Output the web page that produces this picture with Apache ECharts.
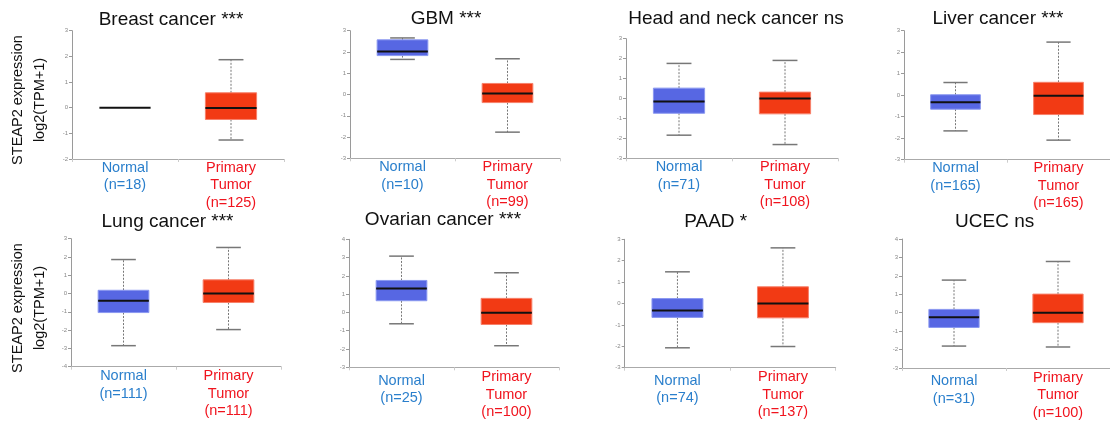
<!DOCTYPE html>
<html><head><meta charset="utf-8">
<script src="https://cdn.jsdelivr.net/npm/echarts@6/dist/echarts.min.js"></script>
<style>html,body{margin:0;padding:0;background:#fff}#c{width:1110px;height:423px}</style>
</head><body><div id="c"></div>
<script>
// ---- data ----
const titles = ['Breast cancer ***','GBM ***','Head and neck cancer ns','Liver cancer ***','Lung cancer ***','Ovarian cancer ***','PAAD *','UCEC ns'];
const normalN = [18,10,71,165,111,25,74,31];
const tumorN = [125,99,108,165,111,100,137,100];
const yMin = [-2,-3,-3,-3,-4,-3,-3,-3];
const yMax = [3,3,3,3,3,4,3,4];
const yLabel = 'STEAP2 expression\nlog2(TPM+1)';
// [min, Q1, median, Q3, max]
const normalBox = [
  [0,0,0,0,0],
  [1.65,1.83,2.02,2.57,2.66],
  [-1.84,-0.74,-0.15,0.52,1.76],
  [-1.66,-0.65,-0.33,0.02,0.59],
  [-2.85,-1.04,-0.40,0.18,1.86],
  [-0.62,0.64,1.31,1.75,3.08],
  [-2.07,-0.65,-0.33,0.23,1.48],
  [-1.81,-0.80,-0.24,0.18,1.77]
];
const tumorBox = [
  [-1.26,-0.46,-0.01,0.58,1.87],
  [-1.77,-0.38,0.05,0.52,1.68],
  [-2.31,-0.77,0.00,0.32,1.91],
  [-2.09,-0.90,-0.02,0.60,2.47],
  [-1.97,-0.49,0.00,0.75,2.52],
  [-1.82,-0.66,-0.02,0.77,2.17],
  [-2.01,-0.67,0.00,0.78,2.60],
  [-1.86,-0.54,0.00,1.01,2.78]
];

// ---- layout ----
const FONT = '"Liberation Sans", Arial, sans-serif';
const gridRects = [
  [72,30.7,212,128.3],[350,30.7,210,127.6],[626,38.7,212,119.6],[904,30.7,212,129],
  [71,238.7,210,128],[349,239.3,210,128],[624.7,239.3,211,128.4],[902,239,212,129]
];
const titlePos = [[171,19.6],[446,19],[736,19],[998,19],[167.5,221.7],[443,219.7],[715.7,221.3],[994.7,221.7]];
const yLabelPos = [[29,100],[29,308]];
const normalLabelShift = [0,0,0,0,0,3.5,3.5,3.5];

function renderBox(params, api) {
  const cat = api.value(0);
  const lo = api.value(1), q1 = api.value(2), med = api.value(3), q3 = api.value(4), hi = api.value(5);
  const band = api.size([1, 0])[0];
  const bw = band * 0.483, cw = band * 0.235;
  const pLo = api.coord([cat, lo]), pQ1 = api.coord([cat, q1]), pMed = api.coord([cat, med]);
  const pQ3 = api.coord([cat, q3]), pHi = api.coord([cat, hi]);
  const x = pMed[0];
  const fill = cat === 0 ? '#5767e3' : '#f23a14';
  const border = cat === 0 ? '#8a98f0' : '#f7806a';
  const wStyle = {stroke: '#777', lineWidth: 1, lineDash: [2, 1.5]};
  const cStyle = {stroke: '#777', lineWidth: 1.5};
  const ch = [];
  if (pHi[1] < pQ3[1] - 0.5) {
    ch.push({type: 'line', shape: {x1: x, y1: pQ3[1], x2: x, y2: pHi[1]}, style: wStyle});
    ch.push({type: 'line', shape: {x1: x - cw / 2, y1: pHi[1], x2: x + cw / 2, y2: pHi[1]}, style: cStyle});
  }
  if (pLo[1] > pQ1[1] + 0.5) {
    ch.push({type: 'line', shape: {x1: x, y1: pQ1[1], x2: x, y2: pLo[1]}, style: wStyle});
    ch.push({type: 'line', shape: {x1: x - cw / 2, y1: pLo[1], x2: x + cw / 2, y2: pLo[1]}, style: cStyle});
  }
  if (pQ1[1] - pQ3[1] > 0.5) {
    ch.push({type: 'rect', shape: {x: x - bw / 2, y: pQ3[1], width: bw, height: pQ1[1] - pQ3[1]},
      style: {fill: fill, stroke: border, lineWidth: 1}});
  }
  ch.push({type: 'line', shape: {x1: x - bw / 2, y1: pMed[1], x2: x + bw / 2, y2: pMed[1]}, style: {stroke: '#111', lineWidth: 2}});
  return {type: 'group', children: ch};
}

const grid = [], xAxis = [], yAxis = [], series = [], graphic = [];
titles.forEach((t, i) => {
  const r = gridRects[i];
  grid.push({left: r[0], top: r[1], width: r[2], height: r[3]});
  xAxis.push({
    type: 'category', gridIndex: i,
    data: [
      {value: 'Normal\n(n=' + normalN[i] + ')', textStyle: {padding: [normalLabelShift[i], 0, 0, 0]}},
      'Primary\nTumor\n(n=' + tumorN[i] + ')'
    ],
    axisLine: {onZero: false, lineStyle: {color: '#aaa', width: 1}},
    axisTick: {show: true, length: 3, lineStyle: {color: '#ccc'}},
    axisLabel: {interval: 0, fontFamily: FONT, fontSize: 14.5, lineHeight: 17.5, margin: i < 4 ? 0 : 1,
      color: (v, idx) => idx === 0 ? '#2a7fcc' : '#f0141e'},
    splitLine: {show: false}
  });
  yAxis.push({
    type: 'value', gridIndex: i, min: yMin[i], max: yMax[i], interval: 1,
    axisLine: {show: true, lineStyle: {color: '#9a9a9a', width: 1}},
    axisTick: {show: true, length: 3, lineStyle: {color: '#9a9a9a'}},
    axisLabel: {fontFamily: FONT, fontSize: 6, color: '#888', margin: 4},
    splitLine: {show: false}
  });
  series.push({
    type: 'custom', xAxisIndex: i, yAxisIndex: i,
    encode: {x: 0, y: [1, 2, 3, 4, 5]},
    renderItem: renderBox,
    data: [[0].concat(normalBox[i]), [1].concat(tumorBox[i])],
    silent: true
  });
  graphic.push({type: 'text', x: titlePos[i][0], y: titlePos[i][1],
    style: {text: t, font: '19px ' + FONT, fill: '#111', align: 'center', verticalAlign: 'middle'}});
});
yLabelPos.forEach(p => {
  graphic.push({type: 'text', x: p[0], y: p[1], rotation: Math.PI / 2,
    style: {text: yLabel, font: '14.5px ' + FONT, fill: '#111', align: 'center', verticalAlign: 'middle', lineHeight: 22}});
});

const chart = echarts.init(document.getElementById('c'), null, {renderer: 'canvas'});
chart.setOption({
  animation: false,
  backgroundColor: '#fff',
  grid: grid, xAxis: xAxis, yAxis: yAxis, series: series, graphic: graphic
});
</script>
</body></html>
